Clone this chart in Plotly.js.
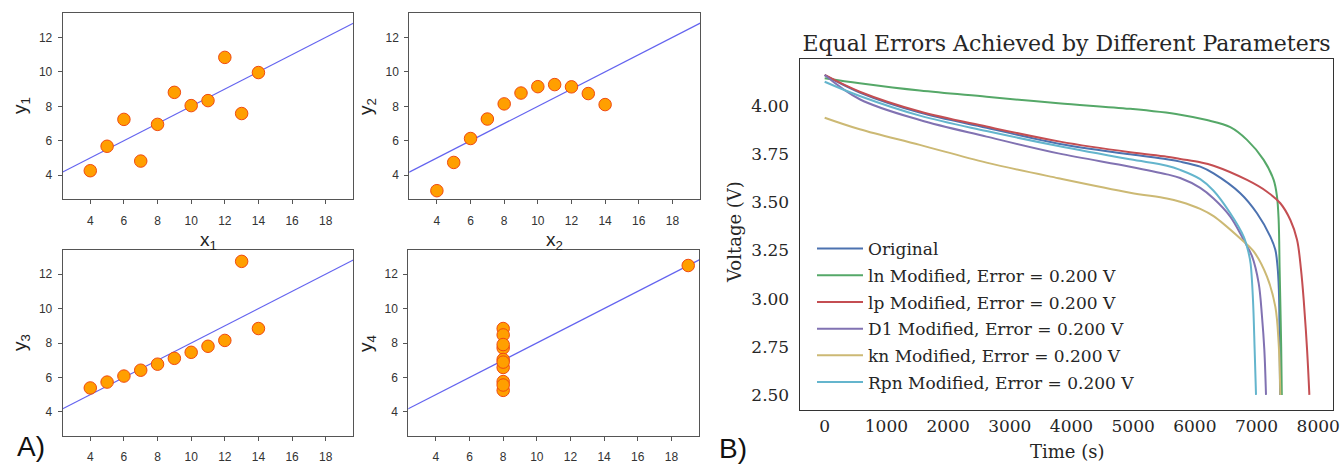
<!DOCTYPE html>
<html>
<head>
<meta charset="utf-8">
<script src="https://cdn.plot.ly/plotly-3.0.1.min.js"></script>
<style>
html,body{margin:0;padding:0;background:#fff;}
#chart{width:1344px;height:476px;}
</style>
</head>
<body>
<div id="chart"></div>
<script>
// ---------- Panel A: Anscombe's quartet ----------
const ansX123 = [10, 8, 13, 9, 11, 14, 6, 4, 12, 7, 5];
const ansY1 = [8.04, 6.95, 7.58, 8.81, 8.33, 9.96, 7.24, 4.26, 10.84, 4.82, 5.68];
const ansY2 = [9.14, 8.14, 8.74, 8.77, 9.26, 8.10, 6.13, 3.10, 9.13, 7.26, 4.74];
const ansY3 = [7.46, 6.77, 12.74, 7.11, 7.81, 8.84, 6.08, 5.39, 8.15, 6.42, 5.73];
const ansX4 = [8, 8, 8, 8, 8, 8, 8, 19, 8, 8, 8];
const ansY4 = [6.58, 5.76, 7.71, 8.84, 8.47, 7.04, 5.25, 12.50, 5.56, 7.91, 6.89];
const fitX = [2, 20];
const fitY = [4.0, 13.0];
const ansXTicks = [4, 6, 8, 10, 12, 14, 16, 18];
const ansYTicks = [4, 6, 8, 10, 12];

// ---------- Panel B: voltage curves ----------
const seriesNames = ["Original", "ln Modified, Error = 0.200 V", "lp Modified, Error = 0.200 V",
  "D1 Modified, Error = 0.200 V", "kn Modified, Error = 0.200 V", "Rpn Modified, Error = 0.200 V"];

const tOrig = [0, 568, 1542, 2624, 3815, 4951, 5547, 5763, 6088, 6304, 6737, 7008, 7224, 7305, 7340, 7362, 7374, 7382];
const vOrig = [4.160, 4.070, 3.966, 3.887, 3.803, 3.749, 3.723, 3.711, 3.685, 3.650, 3.547, 3.443, 3.322, 3.253, 3.170, 3.050, 2.800, 2.500];

const tLn = [0, 568, 1542, 2624, 3788, 4951, 5763, 6196, 6575, 6846, 7116, 7278, 7332, 7359, 7375, 7388, 7400, 7410];
const vLn = [4.144, 4.118, 4.080, 4.048, 4.014, 3.985, 3.955, 3.927, 3.890, 3.824, 3.720, 3.616, 3.530, 3.408, 3.149, 2.950, 2.750, 2.500];

const tLp = [0, 568, 1542, 2624, 3815, 4951, 5547, 5763, 6088, 6304, 6846, 7170, 7386, 7549, 7657, 7722, 7765, 7820, 7857];
const vLp = [4.161, 4.074, 3.971, 3.893, 3.815, 3.760, 3.737, 3.725, 3.708, 3.690, 3.616, 3.555, 3.495, 3.408, 3.305, 3.149, 2.993, 2.734, 2.500];

const tD1 = [0, 568, 1542, 2624, 3788, 4951, 5547, 5763, 6088, 6304, 6575, 6792, 6927, 7035, 7089, 7127, 7154];
const vD1 = [4.161, 4.035, 3.927, 3.841, 3.754, 3.685, 3.645, 3.626, 3.575, 3.520, 3.426, 3.305, 3.220, 3.080, 2.907, 2.734, 2.500];

const tKn = [0, 568, 1542, 2624, 3788, 4951, 5547, 5763, 6088, 6304, 6737, 6954, 7170, 7305, 7359, 7386];
const vKn = [3.939, 3.879, 3.798, 3.706, 3.625, 3.550, 3.520, 3.503, 3.466, 3.428, 3.312, 3.245, 3.114, 2.958, 2.768, 2.500];

const tRpn = [0, 568, 1542, 2624, 3788, 4951, 5547, 5763, 6088, 6304, 6575, 6792, 6873, 6905, 6943, 6970, 6992];
const vRpn = [4.126, 4.052, 3.950, 3.870, 3.792, 3.723, 3.690, 3.668, 3.620, 3.560, 3.443, 3.322, 3.236, 3.180, 2.993, 2.734, 2.500];

const timeTicks = [0, 1000, 2000, 3000, 4000, 5000, 6000, 7000, 8000];
const voltTicks = [2.50, 2.75, 3.00, 3.25, 3.50, 3.75, 4.00];

const seriesColors = ["#4C72B0", "#55A868", "#C44E52", "#8172B2", "#CCB974", "#64B5CD"];

// ---------- traces ----------
const traces = [];
const quartet = [
  {x: ansX123, y: ansY1, ax: ""},
  {x: ansX123, y: ansY2, ax: "2"},
  {x: ansX123, y: ansY3, ax: "3"},
  {x: ansX4, y: ansY4, ax: "4"}
];
quartet.forEach(q => {
  traces.push({
    x: fitX, y: fitY, xaxis: "x" + q.ax, yaxis: "y" + q.ax,
    mode: "lines", line: {color: "rgba(60,60,235,0.8)", width: 1.2},
    showlegend: false, hoverinfo: "skip"
  });
  traces.push({
    x: q.x, y: q.y, xaxis: "x" + q.ax, yaxis: "y" + q.ax,
    mode: "markers", cliponaxis: false,
    marker: {size: 12.5, color: "#FF9F00", line: {color: "#F04A10", width: 1}},
    showlegend: false
  });
});

const bSeries = [[tOrig, vOrig], [tLn, vLn], [tLp, vLp], [tD1, vD1], [tKn, vKn], [tRpn, vRpn]];
bSeries.forEach((s, i) => {
  traces.push({
    x: s[0], y: s[1], xaxis: "x5", yaxis: "y5",
    mode: "lines", name: seriesNames[i], legendgroup: "g" + i,
    line: {color: seriesColors[i], width: 2, shape: "spline", smoothing: 1.0}
  });
});

// ---------- layout ----------
const W = 1344, H = 476;
const px = v => v / W;
const py = v => 1 - v / H;

const sansTick = {family: "Liberation Sans, Arial, sans-serif", size: 12, color: "#333"};
function aX(dom, anchor) {
  return {domain: dom, anchor: anchor, range: [2.36, 19.64], tickvals: ansXTicks,
    ticks: "outside", ticklen: 4, tickwidth: 1, tickcolor: "#555",
    showline: true, mirror: true, linecolor: "#555", linewidth: 1,
    showgrid: false, zeroline: false, tickfont: sansTick, ticklabelstandoff: 6};
}
function aY(dom, anchor) {
  return {domain: dom, anchor: anchor, range: [2.6, 13.4], tickvals: ansYTicks,
    ticks: "outside", ticklen: 4, tickwidth: 1, tickcolor: "#555",
    showline: true, mirror: true, linecolor: "#555", linewidth: 1,
    showgrid: false, zeroline: false, tickfont: sansTick, ticklabelstandoff: 3};
}
const serifTick = {family: "DejaVu Serif, serif", size: 17, color: "#262626"};
const labFont = {family: "Liberation Sans, Arial, sans-serif", size: 19, color: "#222"};

function ann(text, x, y, extra) {
  return Object.assign({text: text, x: px(x), y: py(y), xref: "paper", yref: "paper",
    xanchor: "center", yanchor: "middle", showarrow: false, font: labFont}, extra || {});
}

const layout = {
  width: W, height: H,
  margin: {l: 0, r: 0, t: 0, b: 0},
  paper_bgcolor: "#fff", plot_bgcolor: "#fff",
  showlegend: true,
  title: {text: "Equal Errors Achieved by Different Parameters",
    x: px(1066.5), xanchor: "center", y: py(43), yanchor: "middle",
    font: {family: "DejaVu Serif, serif", size: 22, color: "#262626"}},
  xaxis: aX([px(62.7), px(353.3)], "y"),
  yaxis: aY([py(199.3), py(13.3)], "x"),
  xaxis2: aX([px(409.3), px(700)], "y2"),
  yaxis2: aY([py(199.3), py(13.3)], "x2"),
  xaxis3: aX([px(62.7), px(353.3)], "y3"),
  yaxis3: aY([py(436), py(250)], "x3"),
  xaxis4: aX([px(408.3), px(699)], "y4"),
  yaxis4: aY([py(436), py(250)], "x4"),
  xaxis5: {domain: [px(800), px(1333)], anchor: "y5", range: [-400, 8240],
    tickvals: timeTicks, ticks: "", showline: true, mirror: true,
    linecolor: "#333", linewidth: 1.4, showgrid: false, zeroline: false,
    tickfont: serifTick, ticklabelstandoff: 0},
  yaxis5: {domain: [py(410), py(59)], anchor: "x5", range: [2.4216, 4.2439],
    tickvals: voltTicks, tickformat: ".2f", ticks: "", showline: true, mirror: true,
    linecolor: "#333", linewidth: 1.4, showgrid: false, zeroline: false,
    tickfont: serifTick, ticklabelstandoff: 6},
  legend: {x: px(812), y: py(231), xanchor: "left", yanchor: "top",
    bgcolor: "rgba(255,255,255,0)", borderwidth: 0, traceorder: "grouped",
    itemwidth: 46, tracegroupgap: 1.6,
    font: {family: "DejaVu Serif, serif", size: 17, color: "#262626"}},
  annotations: [
    ann("y<sub>1</sub>", 21, 106, {textangle: -90}),
    ann("y<sub>2</sub>", 367, 106, {textangle: -90}),
    ann("y<sub>3</sub>", 21, 343, {textangle: -90}),
    ann("y<sub>4</sub>", 367, 343, {textangle: -90}),
    ann("x<sub>1</sub>", 208, 241),
    ann("x<sub>2</sub>", 554.7, 241),
    ann("x<sub>3</sub>", 208, 468, {yanchor: "top"}),
    ann("x<sub>4</sub>", 553.7, 468, {yanchor: "top"}),
    ann("A)", 31, 446, {font: {family: "Liberation Sans, Arial, sans-serif", size: 28, color: "#111"}}),
    ann("B)", 733, 448, {font: {family: "Liberation Sans, Arial, sans-serif", size: 28, color: "#111"}}),
    ann("Voltage (V)", 734, 232, {textangle: -90, font: {family: "DejaVu Serif, serif", size: 18, color: "#262626"}}),
    ann("Time (s)", 1067, 451, {font: {family: "DejaVu Serif, serif", size: 18, color: "#262626"}})
  ]
};

Plotly.newPlot("chart", traces, layout, {displayModeBar: false, staticPlot: true});
</script>
</body>
</html>
